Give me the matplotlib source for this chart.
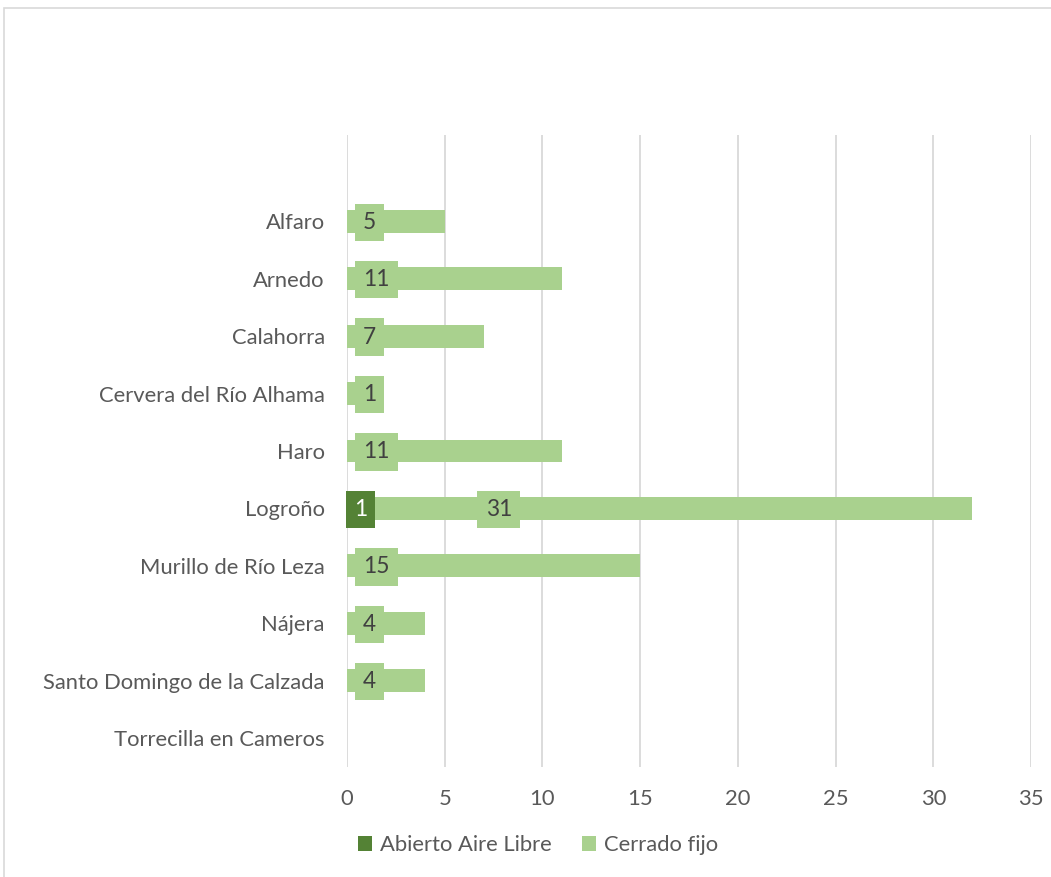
import matplotlib
matplotlib.use("Agg")
import matplotlib.pyplot as plt
from matplotlib.patches import Rectangle, Patch
import numpy as np

plt.rcParams['font.family'] = ['Lato', 'DejaVu Sans']

categories = ["Alfaro", "Arnedo", "Calahorra", "Cervera del Río Alhama", "Haro",
              "Logroño", "Murillo de Río Leza", "Nájera", "Santo Domingo de la Calzada",
              "Torrecilla en Cameros"]
abierto = [0, 0, 0, 0, 0, 1, 0, 0, 0, 0]
cerrado = [5, 11, 7, 1, 11, 31, 15, 4, 4, 0]
series_names = ["Abierto Aire Libre", "Cerrado fijo"]
xticks = [0, 5, 10, 15, 20, 25, 30, 35]

dark = "#548235"
light = "#A9D18E"
txt = "#595959"
grid = "#D9D9D9"
fs = 15.8

W, H = 1051, 877
fig = plt.figure(figsize=(W / 100, H / 100), dpi=100)
ax = fig.add_axes([347 / W, 1 - 767 / H, (1031 - 347) / W, (767 - 135) / H])

y = np.arange(len(categories))
ab = np.array(abierto, dtype=float)
ce = np.array(cerrado, dtype=float)
h = 0.4
ax.barh(y, ab, height=h, color=dark, zorder=3)
ax.barh(y, ce, left=ab, height=h, color=light, zorder=3)

# data labels (boxed, at the base of each segment)
pad = 0.36
for i in range(len(categories)):
    if ab[i] > 0:
        ax.annotate(f"{int(ab[i])}", xy=(0, y[i]), xytext=(7, -1), textcoords="offset pixels",
                    ha="left", va="center", fontsize=fs + 0.5, color="white", zorder=5,
                    bbox=dict(boxstyle=f"square,pad={pad}", fc=dark, ec="none"))
    if ce[i] > 0:
        dx = 119 if ab[i] > 0 else 16
        ax.annotate(f"{int(ce[i])}", xy=(ab[i], y[i]), xytext=(dx, -1), textcoords="offset pixels",
                    ha="left", va="center", fontsize=fs + 0.5, color="#404040", zorder=5,
                    bbox=dict(boxstyle=f"square,pad={pad}", fc=light, ec="none"))

ax.set_xlim(0, 35)
ax.set_ylim(len(categories) - 0.5, -1.5)
ax.set_xticks(xticks)
ax.set_yticks(y)
ax.set_yticklabels(categories)
ax.tick_params(axis="both", length=0, labelsize=fs, labelcolor=txt)
ax.tick_params(axis="y", pad=16)
ax.tick_params(axis="x", pad=16)
ax.xaxis.grid(True, color=grid, linewidth=1.3, zorder=0)
ax.set_axisbelow(True)
for s in ax.spines.values():
    s.set_visible(False)

handles = [Patch(facecolor=dark, edgecolor="none"), Patch(facecolor=light, edgecolor="none")]
leg = fig.legend(handles, series_names, loc="center", bbox_to_anchor=(538 / W, 1 - 845 / H),
                 ncol=2, frameon=False, fontsize=fs, handlelength=0.65, handleheight=0.65,
                 handletextpad=0.35, columnspacing=1.4)
for t in leg.get_texts():
    t.set_color(txt)

fig.patches.append(Rectangle((4 / W, -0.1), 1.2, 1 - 8 / H + 0.1, transform=fig.transFigure,
                             fill=False, edgecolor=grid, linewidth=1.2))

fig.savefig("out.png", dpi=100, facecolor="white")
